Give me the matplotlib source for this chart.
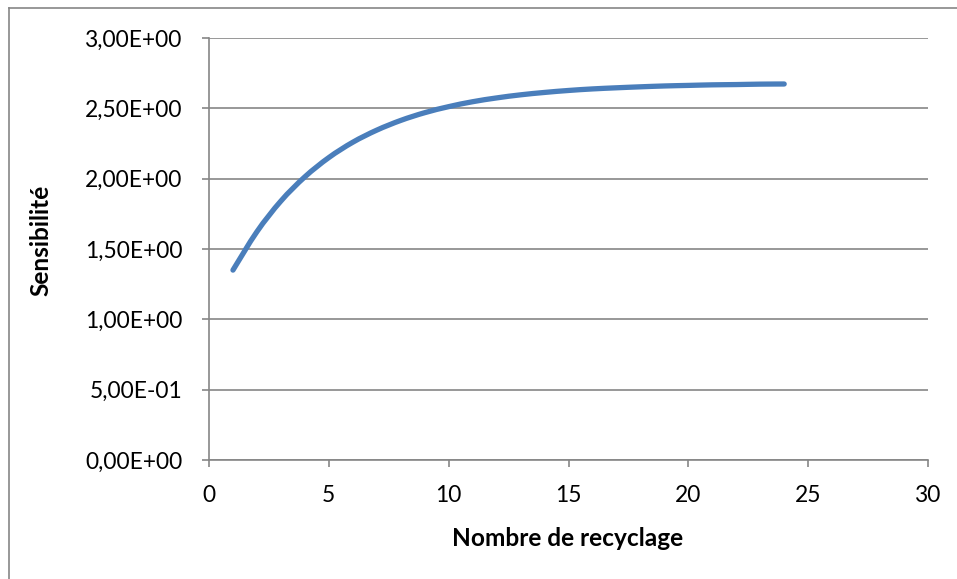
import matplotlib
matplotlib.use("Agg")
import matplotlib.pyplot as plt
from matplotlib.lines import Line2D
from matplotlib.path import Path
from matplotlib.patches import PathPatch
from matplotlib.ticker import FuncFormatter, MultipleLocator

recyclage = list(range(1, 25))
sensibilite = [1.350, 1.623, 1.841, 2.013, 2.150, 2.259, 2.345, 2.414,
               2.469, 2.512, 2.547, 2.574, 2.596, 2.613, 2.627, 2.638,
               2.646, 2.653, 2.659, 2.663, 2.667, 2.669, 2.672, 2.673]

plt.rcParams['font.family'] = ['Lato', 'DejaVu Sans']

fig = plt.figure(figsize=(9.57, 5.79), dpi=100)
ax = fig.add_axes([209/957, 1-460/579, (928-209)/957, (460-38)/579])

gray = '#868686'

# smoothed line (Catmull-Rom -> cubic Bezier), like Excel's smoothed line
xs, ys = recyclage, sensibilite
verts = [(xs[0], ys[0])]
codes = [Path.MOVETO]
n = len(xs)
for i in range(n - 1):
    x0, y0 = (xs[i - 1], ys[i - 1]) if i > 0 else (xs[i], ys[i])
    x1, y1 = xs[i], ys[i]
    x2, y2 = xs[i + 1], ys[i + 1]
    x3, y3 = (xs[i + 2], ys[i + 2]) if i + 2 < n else (xs[i + 1], ys[i + 1])
    c1 = (x1 + (x2 - x0) / 6, y1 + (y2 - y0) / 6)
    c2 = (x2 - (x3 - x1) / 6, y2 - (y3 - y1) / 6)
    verts += [c1, c2, (x2, y2)]
    codes += [Path.CURVE4] * 3
ax.add_patch(PathPatch(Path(verts, codes), fill=False, edgecolor='#4a7ebb',
                       lw=3.8, capstyle='round', joinstyle='round', zorder=3))

ax.set_xlim(0, 30)
ax.set_ylim(0, 3)
ax.xaxis.set_major_locator(MultipleLocator(5))
ax.yaxis.set_major_locator(MultipleLocator(0.5))

def yfmt(v, pos):
    return f"{v:.2E}".replace('.', ',')
ax.yaxis.set_major_formatter(FuncFormatter(yfmt))

ax.grid(axis='y', color=gray, lw=1.2, zorder=1)
ax.set_axisbelow(True)
for side in ['top', 'right']:
    ax.spines[side].set_visible(False)
for side in ['left', 'bottom']:
    ax.spines[side].set_color(gray)
    ax.spines[side].set_linewidth(1.2)

ax.tick_params(axis='both', direction='out', length=5, width=1.2, color=gray,
               labelsize=16.4, labelcolor='black')
ax.tick_params(axis='x', pad=13)
ax.tick_params(axis='y', pad=14)

ax.set_xlabel('Nombre de recyclage', fontsize=17.6, fontweight='bold')
ax.set_ylabel('Sensibilité', fontsize=17.6, fontweight='bold')
ax.xaxis.set_label_coords((568-209)/719, (460-538)/422)
ax.yaxis.set_label_coords((41-209)/719, 0.52)
ax.xaxis.label.set_va('center')
ax.yaxis.label.set_va('center')

# outer chart frame
fig.add_artist(Line2D([9/957, 9/957], [0, 1-8/579], transform=fig.transFigure,
                      color=gray, lw=1.2))
fig.add_artist(Line2D([9/957, 1], [1-8/579, 1-8/579], transform=fig.transFigure,
                      color=gray, lw=1.2))

fig.savefig('out.png', dpi=100, facecolor='white')
